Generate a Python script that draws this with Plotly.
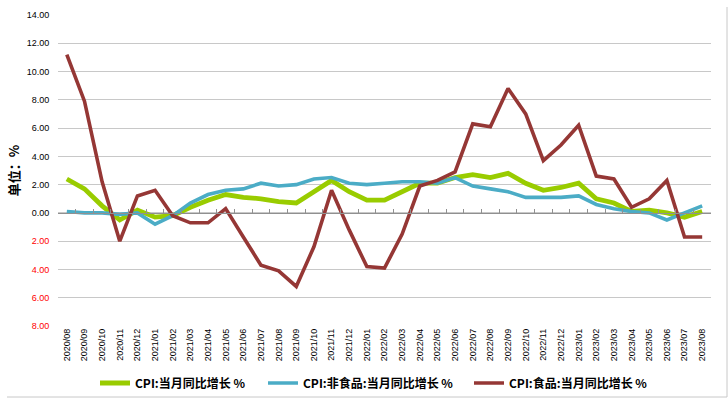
import plotly.graph_objects as go

months = ["2020/08","2020/09","2020/10","2020/11","2020/12",
          "2021/01","2021/02","2021/03","2021/04","2021/05","2021/06","2021/07","2021/08","2021/09","2021/10","2021/11","2021/12",
          "2022/01","2022/02","2022/03","2022/04","2022/05","2022/06","2022/07","2022/08","2022/09","2022/10","2022/11","2022/12",
          "2023/01","2023/02","2023/03","2023/04","2023/05","2023/06","2023/07","2023/08"]

cpi_total = [2.4, 1.7, 0.5, -0.5, 0.2,
             -0.3, -0.2, 0.4, 0.9, 1.3, 1.1, 1.0, 0.8, 0.7, 1.5, 2.3, 1.5,
             0.9, 0.9, 1.5, 2.1, 2.1, 2.5, 2.7, 2.5, 2.8, 2.1, 1.6, 1.8,
             2.1, 1.0, 0.7, 0.1, 0.2, 0.0, -0.3, 0.1]

cpi_nonfood = [0.1, 0.0, 0.0, -0.1, 0.0,
               -0.8, -0.2, 0.7, 1.3, 1.6, 1.7, 2.1, 1.9, 2.0, 2.4, 2.5, 2.1,
               2.0, 2.1, 2.2, 2.2, 2.1, 2.5, 1.9, 1.7, 1.5, 1.1, 1.1, 1.1,
               1.2, 0.6, 0.3, 0.1, 0.0, -0.5, 0.0, 0.5]

cpi_food = [11.2, 7.9, 2.2, -2.0, 1.2,
            1.6, -0.2, -0.7, -0.7, 0.3, -1.7, -3.7, -4.1, -5.2, -2.4, 1.6, -1.2,
            -3.8, -3.9, -1.5, 1.9, 2.3, 2.9, 6.3, 6.1, 8.8, 7.0, 3.7, 4.8,
            6.2, 2.6, 2.4, 0.4, 1.0, 2.3, -1.7, -1.7]

series_names = ["CPI:当月同比增长 %", "CPI:非食品:当月同比增长 %", "CPI:食品:当月同比增长 %"]
series_colors = ["#99cc00", "#4bacc6", "#953735"]
series_widths = [4.8, 3.6, 3.6]

y_ticks = [-8, -6, -4, -2, 0, 2, 4, 6, 8, 10, 12, 14]
y_ticktext = [("<span style='color:#ff0000'>%.2f</span>" % abs(v)) if v < 0 else "%.2f" % v for v in y_ticks]

L, R, T, B = 58, 17, 15, 73
W, H = 728, 399
pw, ph = W - L - R, H - T - B

def px_to_paper_x(px):
    return (px - L) / pw

def px_to_paper_y(py):
    return (H - B - py) / ph

legend_ids = ["legend", "legend2", "legend3"]
legend_x_px = [95, 263, 469]

fig = go.Figure()
for name, vals, col, w, lg in zip(series_names, [cpi_total, cpi_nonfood, cpi_food],
                                  series_colors, series_widths, legend_ids):
    fig.add_trace(go.Scatter(x=months, y=vals, name=name, mode="lines", legend=lg,
                             line=dict(color=col, width=w), hoverinfo="x+y+name"))

# invisible trace to carry the zero-line axis with category-boundary ticks
n = len(months)
fig.add_trace(go.Scatter(x=[-0.5, n - 0.5], y=[0, 0], xaxis="x2", mode="lines",
                         line=dict(color="rgba(0,0,0,0)", width=0),
                         showlegend=False, hoverinfo="skip"))

legend_font = dict(family="Noto Sans CJK SC", size=12, color="black", weight="bold")
legends = {}
for lg, xp in zip(legend_ids, legend_x_px):
    legends[lg] = dict(orientation="h", x=px_to_paper_x(xp), y=px_to_paper_y(383),
                       xanchor="left", yanchor="middle", font=legend_font,
                       itemwidth=30, bgcolor="rgba(0,0,0,0)")

fig.update_layout(
    width=W, height=H,
    margin=dict(l=L, r=R, t=T, b=B, pad=0, autoexpand=False),
    paper_bgcolor="white", plot_bgcolor="white",
    font=dict(family="Liberation Sans, Arial, sans-serif", size=9, color="black"),
    xaxis=dict(type="category", range=[-0.5, n - 0.5], tickangle=-90, automargin=False,
               showgrid=False, showline=False, ticks="", zeroline=False,
               tickfont=dict(size=9, family="Liberation Sans, Arial, sans-serif")),
    xaxis2=dict(overlaying="x", anchor="free", position=8 / 22, type="linear",
                range=[-0.5, n - 0.5], showline=True, linecolor="#909090", linewidth=1,
                ticks="inside", ticklen=4, tickcolor="#909090", automargin=False,
                tickvals=[i - 0.5 for i in range(n + 1)],
                showticklabels=False, showgrid=False, zeroline=False),
    yaxis=dict(range=[-8, 14], tickvals=y_ticks, ticktext=y_ticktext, automargin=False,
               showgrid=True, gridcolor="#c8c8c8", gridwidth=1,
               zeroline=False, showline=False,
               ticks="outside", ticklen=6, tickcolor="rgba(0,0,0,0)",
               tickfont=dict(size=9, family="Liberation Sans, Arial, sans-serif"),
               title=dict(text="<b>单位：%</b>", standoff=4,
                          font=dict(family="Noto Sans CJK SC", size=13, color="black"))),
    showlegend=True,
    shapes=[
        dict(type="line", xref="paper", yref="paper",
             x0=px_to_paper_x(727), x1=px_to_paper_x(727),
             y0=px_to_paper_y(7), y1=px_to_paper_y(397),
             line=dict(color="#c8c8c8", width=1)),
        dict(type="line", xref="paper", yref="paper",
             x0=px_to_paper_x(7), x1=px_to_paper_x(727),
             y0=px_to_paper_y(397), y1=px_to_paper_y(397),
             line=dict(color="#c8c8c8", width=1)),
    ],
    **legends,
)

fig.write_html("out.html", config={"displayModeBar": False},
               post_script="document.body.style.margin='0';document.body.style.overflow='hidden';")
